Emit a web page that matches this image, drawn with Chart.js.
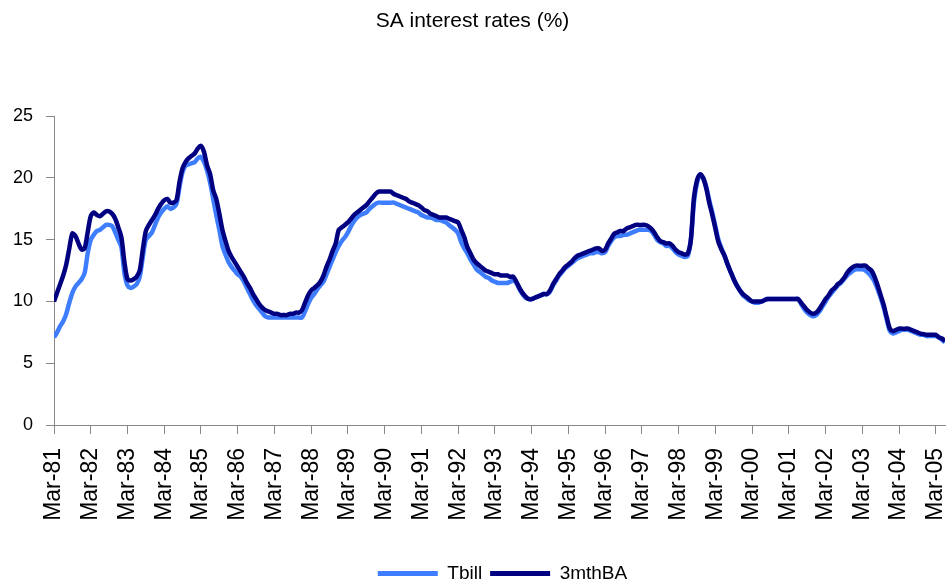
<!DOCTYPE html>
<html>
<head>
<meta charset="utf-8">
<title>SA interest rates</title>
<script src="https://cdn.jsdelivr.net/npm/chart.js@4.4.1/dist/chart.umd.min.js"></script>
<style>
  body { margin: 0; background: #fff; }
  #wrap { width: 946px; height: 580px; }
</style>
</head>
<body>
<div id="wrap"><canvas id="myChart" width="946" height="580"></canvas></div>
<script>
// monthly series, Mar-81 .. Jun-05, one row per year (Mar..Feb)
var startYear = 1981;
var monthNames = ['Jan', 'Feb', 'Mar', 'Apr', 'May', 'Jun', 'Jul', 'Aug', 'Sep', 'Oct', 'Nov', 'Dec'];

var tbill = [
    7.1, 7.5, 8.0, 8.4, 9.0, 9.9, 10.7, 11.2, 11.5, 11.8, 12.3, 13.9,
    15.0, 15.4, 15.7, 15.8, 16.0, 16.2, 16.2, 16.1, 15.6, 15.0, 14.4, 12.3,
    11.3, 11.1, 11.2, 11.4, 12.0, 13.6, 15.0, 15.3, 15.6, 16.2, 16.8, 17.2,
    17.5, 17.7, 17.5, 17.6, 17.9, 19.3, 20.5, 21.0, 21.1, 21.2, 21.3, 21.6,
    21.7, 21.3, 20.6, 19.6, 18.3, 17.0, 15.8, 14.5, 13.8, 13.2, 12.8, 12.5,
    12.2, 12.0, 11.6, 11.1, 10.6, 10.1, 9.7, 9.4, 9.1, 8.8, 8.7, 8.7,
    8.7, 8.7, 8.7, 8.7, 8.7, 8.7, 8.7, 8.7, 8.7, 8.7, 9.2, 9.8,
    10.3, 10.6, 11.0, 11.3, 11.6, 12.2, 12.8, 13.4, 14.0, 14.5, 14.9, 15.2,
    15.6, 16.1, 16.5, 16.8, 17.0, 17.1, 17.2, 17.5, 17.7, 17.9, 18.0, 18.0,
    18.0, 18.0, 18.0, 18.0, 17.9, 17.8, 17.7, 17.6, 17.5, 17.4, 17.3, 17.2,
    17.0, 16.9, 16.8, 16.8, 16.7, 16.6, 16.6, 16.5, 16.4, 16.2, 16.0, 15.8,
    15.5, 14.8, 14.3, 13.9, 13.4, 13.0, 12.6, 12.4, 12.2, 12.0, 11.9, 11.7,
    11.6, 11.5, 11.5, 11.5, 11.5, 11.6, 11.7, 11.5, 11.0, 10.6, 10.3, 10.2,
    10.2, 10.3, 10.4, 10.5, 10.6, 10.6, 10.8, 11.3, 11.7, 12.1, 12.4, 12.7,
    12.9, 13.1, 13.3, 13.5, 13.6, 13.7, 13.8, 13.9, 13.9, 14.0, 14.0, 13.9,
    14.0, 14.5, 14.9, 15.2, 15.3, 15.3, 15.4, 15.4, 15.5, 15.6, 15.7, 15.8,
    15.8, 15.8, 15.8, 15.7, 15.4, 15.0, 14.8, 14.7, 14.5, 14.5, 14.3, 14.0,
    13.8, 13.7, 13.6, 13.7, 15.0, 18.0, 19.6, 20.2, 20.0, 19.3, 18.2, 17.2,
    16.1, 15.0, 14.3, 13.7, 13.0, 12.4, 11.8, 11.3, 10.9, 10.5, 10.3, 10.1,
    10.0, 9.9, 9.9, 10.0, 10.1, 10.2, 10.2, 10.2, 10.2, 10.2, 10.2, 10.2,
    10.2, 10.2, 10.2, 10.2, 9.8, 9.4, 9.1, 8.9, 8.8, 8.9, 9.2, 9.6,
    10.0, 10.4, 10.7, 11.0, 11.3, 11.5, 11.8, 12.1, 12.3, 12.5, 12.6, 12.6,
    12.6, 12.5, 12.3, 12.0, 11.6, 11.0, 10.3, 9.5, 8.5, 7.6, 7.4, 7.5,
    7.6, 7.7, 7.7, 7.7, 7.6, 7.5, 7.4, 7.3, 7.3, 7.2, 7.2, 7.2,
    7.2, 7.1, 6.9, 6.7
];

var ba3m = [
    10.0, 10.7, 11.4, 12.1, 13.0, 14.3, 15.5, 15.3, 14.7, 14.2, 14.3, 15.6,
    16.9, 17.2, 17.0, 16.9, 17.1, 17.3, 17.3, 17.1, 16.7, 16.0, 15.2, 13.2,
    11.8, 11.7, 11.8, 12.0, 12.5, 14.2, 15.7, 16.2, 16.6, 17.0, 17.5, 17.9,
    18.2, 18.3, 18.0, 18.0, 18.2, 19.7, 20.8, 21.3, 21.6, 21.8, 22.0, 22.4,
    22.6, 22.1, 21.0, 20.3, 19.0, 18.3, 17.1, 15.8, 14.9, 14.1, 13.6, 13.2,
    12.8, 12.4, 12.0, 11.5, 11.1, 10.6, 10.2, 9.8, 9.5, 9.3, 9.2, 9.1,
    9.0, 9.0, 8.9, 8.9, 8.9, 9.0, 9.0, 9.1, 9.1, 9.3, 9.9, 10.5,
    10.9, 11.1, 11.3, 11.6, 12.1, 12.8, 13.4, 14.1, 14.7, 15.8, 16.0, 16.2,
    16.4, 16.7, 17.0, 17.2, 17.4, 17.6, 17.8, 18.1, 18.4, 18.7, 18.9, 18.9,
    18.9, 18.9, 18.9, 18.7, 18.6, 18.5, 18.4, 18.3, 18.1, 18.0, 17.9, 17.8,
    17.6, 17.4, 17.3, 17.1, 17.0, 16.9, 16.8, 16.8, 16.8, 16.7, 16.6, 16.5,
    16.4, 15.8, 15.2, 14.4, 13.9, 13.4, 13.1, 12.9, 12.7, 12.5, 12.4, 12.3,
    12.2, 12.2, 12.1, 12.1, 12.1, 12.0, 12.0, 11.6, 11.1, 10.7, 10.4, 10.2,
    10.2, 10.3, 10.4, 10.5, 10.6, 10.6, 10.9, 11.4, 11.8, 12.2, 12.5, 12.8,
    13.0, 13.2, 13.5, 13.7, 13.8, 13.9, 14.0, 14.1, 14.2, 14.3, 14.3, 14.1,
    14.2, 14.7, 15.1, 15.5, 15.6, 15.7, 15.7, 15.9, 16.0, 16.1, 16.2, 16.2,
    16.2, 16.2, 16.1, 15.9, 15.6, 15.2, 14.9, 14.8, 14.7, 14.7, 14.5, 14.2,
    14.0, 13.9, 13.8, 13.9, 15.0, 18.4, 19.8, 20.3, 20.0, 19.2, 18.0, 17.0,
    15.9, 14.8, 14.2, 13.7, 13.0, 12.4, 11.8, 11.3, 10.9, 10.6, 10.4, 10.2,
    10.0, 10.0, 10.0, 10.0, 10.1, 10.2, 10.2, 10.2, 10.2, 10.2, 10.2, 10.2,
    10.2, 10.2, 10.2, 10.2, 9.9, 9.6, 9.3, 9.1, 9.0, 9.1, 9.4, 9.8,
    10.2, 10.5, 10.9, 11.1, 11.4, 11.6, 11.9, 12.3, 12.6, 12.8, 12.9, 12.9,
    12.9, 12.9, 12.7, 12.5, 12.0, 11.3, 10.5, 9.7, 8.7, 7.8, 7.6, 7.7,
    7.8, 7.8, 7.8, 7.8, 7.7, 7.6, 7.5, 7.4, 7.35, 7.3, 7.3, 7.3,
    7.3, 7.1, 7.0, 6.8
];

var yTicks = [0, 5, 10, 15, 20, 25];

// month labels Mar-81, Apr-81, ...
var months = [];
for (var i = 0; i < ba3m.length; i++) {
    var mi = (2 + i) % 12;
    var yr = startYear + Math.floor((2 + i) / 12);
    months.push(monthNames[mi] + '-' + String(yr).slice(2));
}
// one tick per year, every March
var xTicks = months.map((m, i) => i).filter(i => i % 12 === 0);

var font = "'Liberation Sans', Arial, sans-serif";
var axisGrey = '#888888';

function toPoints(values) {
    return values.map((v, i) => ({ x: i, y: v }));
}

// legend in the original sits a little right of the page centre
const legendShift = {
    id: 'legendShift',
    afterLayout: (chart) => {
        chart.legend.left += 30;
        chart.legend.right += 30;
    }
};

const ctx = document.getElementById('myChart').getContext('2d');
new Chart(ctx, {
    type: 'line',
    data: {
        datasets: [{
            label: 'Tbill',
            data: toPoints(tbill),
            borderColor: '#3f7dff',
            backgroundColor: '#3f7dff',
            borderWidth: 4.5,
            pointRadius: 0,
            tension: 0.3,
            order: 2
        }, {
            label: '3mthBA',
            data: toPoints(ba3m),
            borderColor: '#000080',
            backgroundColor: '#000080',
            borderWidth: 4.5,
            pointRadius: 0,
            tension: 0.3,
            order: 1
        }]
    },
    plugins: [legendShift],
    options: {
        responsive: false,
        animation: false,
        layout: { padding: { left: 0, right: 1, top: 0, bottom: -13 } },
        plugins: {
            title: {
                display: true,
                text: 'SA interest rates (%)',
                color: '#000',
                font: { family: font, size: 21, weight: 'normal' },
                padding: { top: 9, bottom: 82 }
            },
            legend: {
                position: 'bottom',
                labels: {
                    color: '#000',
                    font: { family: font, size: 19, lineHeight: 1 },
                    boxWidth: 60,
                    boxHeight: 5,
                    padding: 8,
                    sort: (a, b) => a.datasetIndex - b.datasetIndex,
                    generateLabels: (chart) => {
                        return Chart.defaults.plugins.legend.labels.generateLabels(chart).map(item => {
                            item.lineWidth = 0;
                            return item;
                        });
                    }
                }
            },
            tooltip: { enabled: false }
        },
        scales: {
            x: {
                type: 'linear',
                min: 0,
                max: months.length - 1,
                border: { color: axisGrey, width: 1 },
                grid: {
                    drawOnChartArea: false,
                    tickLength: 9,
                    color: axisGrey
                },
                afterBuildTicks: (scale) => {
                    scale.ticks = xTicks.map(v => ({ value: v }));
                },
                ticks: {
                    autoSkip: false,
                    maxRotation: 90,
                    minRotation: 90,
                    padding: 14,
                    color: '#000',
                    font: { family: font, size: 23 },
                    callback: (value) => months[value]
                },
                afterFit: (scale) => {
                    scale.height = 131;
                    scale.paddingRight = 0;
                }
            },
            y: {
                min: 0,
                max: 25,
                border: { color: axisGrey, width: 1 },
                grid: {
                    drawOnChartArea: false,
                    tickLength: 8,
                    color: axisGrey
                },
                afterBuildTicks: (scale) => {
                    scale.ticks = yTicks.map(v => ({ value: v }));
                },
                ticks: {
                    padding: 13,
                    color: '#000',
                    font: { family: font, size: 18 }
                },
                afterFit: (scale) => { scale.width = 54; }
            }
        }
    }
});
</script>
</body>
</html>
